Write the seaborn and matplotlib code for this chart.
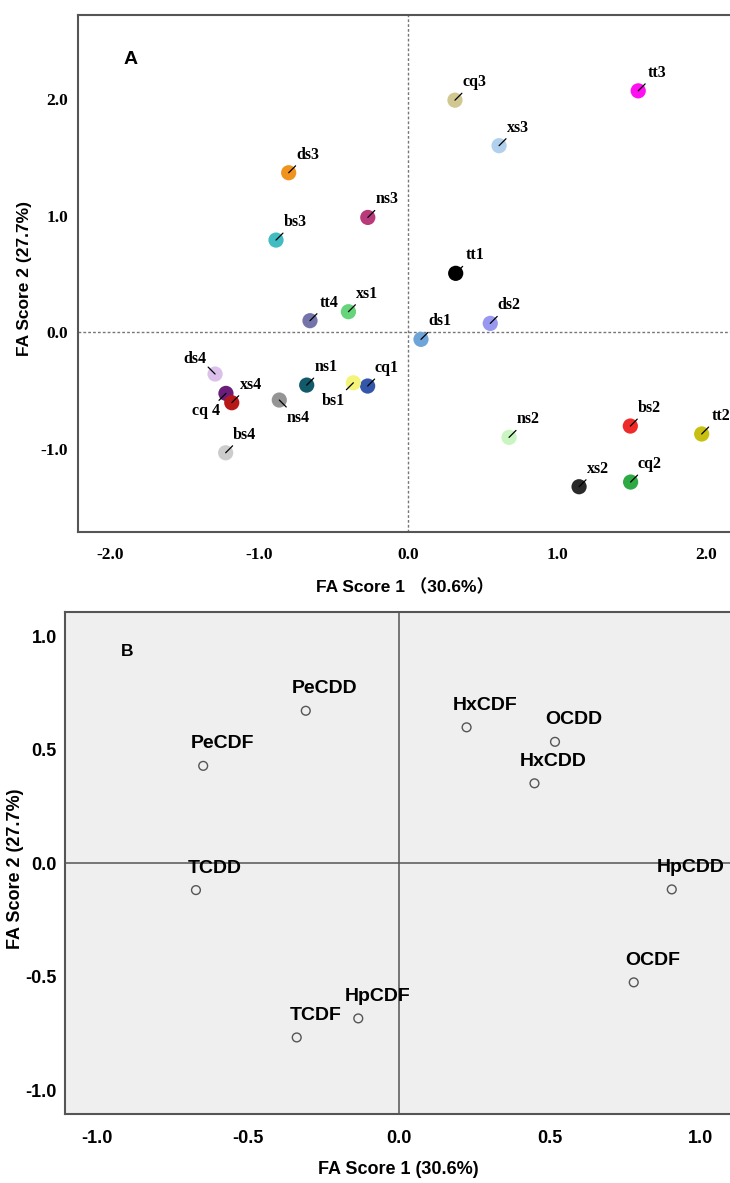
import numpy as np
import pandas as pd
import matplotlib
matplotlib.use("Agg")
import matplotlib.pyplot as plt
import seaborn as sns

# --- panel A: sample factor scores -----------------------------------------
SAMPLES = ["tt1", "tt2", "tt3", "tt4", "cq1", "cq2", "cq3", "cq 4",
           "xs1", "xs2", "xs3", "xs4", "ds1", "ds2", "ds3", "ds4",
           "ns1", "ns2", "ns3", "ns4", "bs1", "bs2", "bs3", "bs4"]
SCORE1_A = [0.318, 1.969, 1.543, -0.66, -0.273, 1.492, 0.313, -1.224,
            -0.402, 1.146, 0.609, -1.185, 0.085, 0.55, -0.803, -1.297,
            -0.682, 0.676, -0.272, -0.866, -0.369, 1.49, -0.888, -1.226]
SCORE2_A = [0.506, -0.871, 2.07, 0.10, -0.46, -1.283, 1.99, -0.523,
            0.177, -1.323, 1.60, -0.603, -0.06, 0.077, 1.368, -0.357,
            -0.452, -0.90, 0.985, -0.58, -0.432, -0.803, 0.791, -1.032]
COLORS_A = ["#000000", "#c8c010", "#ff10f0", "#7474aa", "#3355aa", "#2eaa44",
            "#d0c890", "#6a1e7a", "#66d47a", "#2a2a2a", "#b0d0ee", "#b81818",
            "#6fa4d8", "#9898f0", "#f0921e", "#dcc0ec", "#125a6a", "#c8f5c0",
            "#b83a7a", "#959595", "#f4f47a", "#ee2a2a", "#40bcc2", "#cccccc"]
# where each label sits relative to its point
LABEL_SIDE = {"ds4": "ul", "cq 4": "ll", "ns4": "lr", "bs1": "ll"}

# --- panel B: congener loadings ---------------------------------------------
CONGENERS = ["PeCDD", "PeCDF", "TCDD", "TCDF", "HpCDF",
             "HxCDF", "OCDD", "HxCDD", "HpCDD", "OCDF"]
SCORE1_B = [-0.309, -0.649, -0.673, -0.339, -0.135,
            0.224, 0.517, 0.449, 0.904, 0.778]
SCORE2_B = [0.673, 0.43, -0.118, -0.768, -0.684,
            0.60, 0.536, 0.353, -0.115, -0.525]

TICKS_A_X = [-2.0, -1.0, 0.0, 1.0, 2.0]
TICKS_A_Y = [-1.0, 0.0, 1.0, 2.0]
TICKS_B = [-1.0, -0.5, 0.0, 0.5, 1.0]

SPINE = "#555555"
NARROW = ["DejaVu Sans Condensed", "Liberation Sans"]

sns.set_style("white")
plt.rcParams["font.family"] = ["Liberation Sans", "Noto Sans CJK SC", "DejaVu Sans"]
for k in ["text.color", "axes.labelcolor", "xtick.labelcolor", "ytick.labelcolor"]:
    plt.rcParams[k] = "black"

fig = plt.figure(figsize=(7.30, 11.83), dpi=100)
ax1 = fig.add_axes([78 / 730, 1 - 532 / 1183, 652 / 730, 517 / 1183])
ax2 = fig.add_axes([65 / 730, 1 - 1114.3 / 1183, 665 / 730, 502.6 / 1183])

# ---- A ----
dfa = pd.DataFrame({"s1": SCORE1_A, "s2": SCORE2_A, "sample": SAMPLES})
ax1.axhline(0, color="#777777", lw=1.0, ls=(0, (2, 1.5)), zorder=1)
ax1.axvline(0, color="#777777", lw=1.0, ls=(0, (2, 1.5)), zorder=1)
sns.scatterplot(data=dfa, x="s1", y="s2", hue="sample",
                palette=dict(zip(SAMPLES, COLORS_A)), s=120,
                edgecolor="none", legend=False, ax=ax1, zorder=3)

offs = {"ur": (13.7, 13.0), "ul": (-14.4, 10.8),
        "ll": (-14.6, -13.0), "lr": (13.7, -13.0)}
for name, x, y in zip(SAMPLES, SCORE1_A, SCORE2_A):
    side = LABEL_SIDE.get(name, "ur")
    dx, dy = offs[side]
    ax1.annotate(name, (x, y), xytext=(dx, dy), textcoords="offset points",
                 ha="center", va="center", fontsize=11.5, fontweight="bold",
                 family="Liberation Serif", color="black", zorder=5)
    ax1.annotate("", (x, y), xytext=(np.sign(dx) * 5, np.sign(dy) * 5),
                 textcoords="offset points", zorder=4,
                 arrowprops=dict(arrowstyle="-", color="black", lw=0.9,
                                 shrinkA=0, shrinkB=0))

ax1.set_xlim(-2.217, 2.159)
ax1.set_ylim(-1.711, 2.72)
ax1.set_xticks(TICKS_A_X)
ax1.set_yticks(TICKS_A_Y)
ax1.set_xticklabels([f"{t:.1f}" for t in TICKS_A_X])
ax1.set_yticklabels([f"{t:.1f}" for t in TICKS_A_Y])
for lab in ax1.get_xticklabels() + ax1.get_yticklabels():
    lab.set_family("Liberation Serif")
    lab.set_fontweight("bold")
    lab.set_fontsize(12.5)
ax1.tick_params(axis="x", direction="out", length=7, width=1, color=SPINE, pad=4)
ax1.tick_params(axis="y", direction="out", length=5, width=1, color=SPINE, pad=2)
ax1.set_xlabel("")
ax1.set_ylabel("")
for side in ["left", "bottom", "top"]:
    ax1.spines[side].set_color(SPINE)
    ax1.spines[side].set_linewidth(1.5)
ax1.spines["right"].set_visible(False)
ax1.text(0.08, 0.913, "A", transform=ax1.transAxes, fontsize=14,
         fontweight="bold", ha="center", va="center")

# ---- B ----
dfb = pd.DataFrame({"s1": SCORE1_B, "s2": SCORE2_B, "congener": CONGENERS})
ax2.set_facecolor("#efefef")
ax2.axhline(0, color=SPINE, lw=1.1, zorder=1)
ax2.axvline(0, color=SPINE, lw=1.1, zorder=1)
sns.scatterplot(data=dfb, x="s1", y="s2", s=40, color="#555555",
                linewidth=1.0, legend=False, ax=ax2, zorder=3)
ax2.collections[-1].set_facecolor("none")
ax2.collections[-1].set_edgecolor("#555555")
for name, x, y in zip(CONGENERS, SCORE1_B, SCORE2_B):
    ax2.annotate(name, (x, y), xytext=(13.7, 15.8), textcoords="offset points",
                 ha="center", va="center", fontsize=14, fontweight="bold",
                 family=NARROW, zorder=5)

ax2.set_xlim(-1.107, 1.097)
ax2.set_ylim(-1.107, 1.11)
ax2.set_xticks(TICKS_B)
ax2.set_yticks(TICKS_B)
ax2.set_xticklabels([f"{t:.1f}" for t in TICKS_B])
ax2.set_yticklabels([f"{t:.1f}" for t in TICKS_B])
for lab in ax2.get_xticklabels() + ax2.get_yticklabels():
    lab.set_family(NARROW)
    lab.set_fontweight("bold")
    lab.set_fontsize(13)
ax2.tick_params(axis="x", direction="out", length=7, width=1, color=SPINE, pad=4)
ax2.tick_params(axis="y", direction="out", length=5, width=1, color=SPINE, pad=1)
ax2.set_xlabel("")
ax2.set_ylabel("")
for side in ["left", "bottom", "top"]:
    ax2.spines[side].set_color(SPINE)
    ax2.spines[side].set_linewidth(1.5)
ax2.spines["right"].set_visible(False)
ax2.text(0.093, 0.92, "B", transform=ax2.transAxes, fontsize=12.5,
         fontweight="bold", ha="center", va="center")

# ---- axis titles ----
fig.text(405 / 730, 1 - 587 / 1183, "FA Score 1 （30.6%）", ha="center", va="center",
         fontsize=12.5, fontweight="bold",
         family=["Liberation Sans", "Noto Sans CJK SC"])
fig.text(25 / 730, 1 - 278 / 1183, "FA Score 2 (27.7%)", ha="center", va="center",
         rotation=90, fontsize=12.5, fontweight="bold")
fig.text(398 / 730, 1 - 1170 / 1183, "FA Score 1 (30.6%)", ha="center", va="center",
         fontsize=13, fontweight="bold", family=NARROW)
fig.text(16 / 730, 1 - 869 / 1183, "FA Score 2 (27.7%)", ha="center", va="center",
         rotation=90, fontsize=13, fontweight="bold", family=NARROW)

fig.savefig("out.png", dpi=100)
